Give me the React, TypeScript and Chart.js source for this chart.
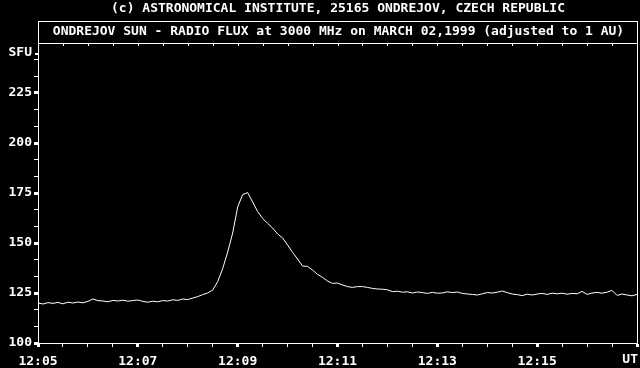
import React, { useEffect, useRef } from "react";
import { Chart, registerables } from "chart.js";

Chart.register(...registerables);

const titleText = "(c) ASTRONOMICAL INSTITUTE, 25165 ONDREJOV, CZECH REPUBLIC";
const subtitleText = "ONDREJOV SUN - RADIO FLUX at 3000 MHz on MARCH 02,1999 (adjusted to 1 AU)";
const yUnitLabel = "SFU";
const xUnitLabel = "UT";

// seconds after 12:00 UT
const startSec = 300; // 12:05:00
const stepSec = 6;
const xMinSec = 300;
const xMaxSec = 1020; // 12:17
const xMajorLabelSec = [300, 420, 540, 660, 780, 900];
const yMajorTicks = [100, 125, 150, 175, 200, 225];

// radio flux in SFU, one sample every 6 s from 12:05:00
const flux = [
  120.0, 119.5, 120.2, 119.8, 120.3, 119.6, 120.4, 120.0, 120.5, 120.1,
  120.8, 122.0, 121.2, 121.0, 120.6, 121.3, 121.0, 121.4, 120.9, 121.2,
  121.5, 120.8, 120.4, 120.9, 120.6, 121.2, 121.0, 121.6, 121.3, 122.0,
  121.7, 122.5, 123.2, 124.2, 125.0, 126.5, 130.7, 137.2, 145.5, 155.0,
  168.0, 174.2, 175.2, 170.5, 165.7, 162.3, 159.8, 157.5, 154.5, 152.5,
  149.0, 145.3, 142.0, 138.5, 138.3, 136.5, 134.3, 132.8, 131.0, 129.8,
  130.0, 129.0, 128.2, 127.8, 128.2, 128.2, 127.8, 127.3, 127.0, 126.9,
  126.6, 125.7, 125.9, 125.4, 125.6, 125.0, 125.5, 125.2, 124.8, 125.3,
  124.9, 125.0, 125.6, 125.2, 125.5, 124.8, 124.5, 124.3, 124.0, 124.6,
  125.2, 125.0, 125.4, 126.0, 125.2, 124.5, 124.2, 123.7, 124.4, 124.0,
  124.5, 124.8, 124.3, 124.9, 124.6, 124.9, 124.4, 124.8, 124.6, 125.8,
  124.3, 125.0, 125.3, 124.9, 125.4, 126.3, 123.8, 124.5, 124.0, 123.6,
  124.3,
];

const FONT = "'DejaVu Sans Mono', 'Liberation Mono', monospace";

function fmtTime(sec: number): string {
  const h = 12 + Math.floor(sec / 3600);
  const m = Math.floor((sec % 3600) / 60);
  return `${h}:${m < 10 ? "0" : ""}${m}`;
}

const framePlugin = {
  id: "frame",
  beforeDraw(chart: any) {
    const { ctx, width, height } = chart;
    ctx.save();
    ctx.fillStyle = "#000";
    ctx.fillRect(0, 0, width, height);
    ctx.restore();
  },
  afterDraw(chart: any) {
    const { ctx, chartArea } = chart;
    const { left, right, top, bottom } = chartArea;
    ctx.save();
    ctx.fillStyle = "#fff";
    ctx.strokeStyle = "#fff";
    ctx.lineWidth = 1;
    ctx.font = `bold 13px ${FONT}`;
    ctx.textBaseline = "middle";
    ctx.textAlign = "center";
    ctx.fillText(titleText, 338, 9);
    // subtitle box
    ctx.beginPath();
    ctx.moveTo(left, 21.5);
    ctx.lineTo(right + 0.5, 21.5);
    ctx.moveTo(left + 0.5, 21);
    ctx.lineTo(left + 0.5, top);
    ctx.moveTo(right + 0.5, 21);
    ctx.lineTo(right + 0.5, bottom);
    ctx.moveTo(left, top + 0.5);
    ctx.lineTo(right + 1, top + 0.5);
    ctx.stroke();
    ctx.fillText(subtitleText, (left + right) / 2 + 1, 32);
    // top minor ticks
    const xs = chart.scales.x;
    ctx.beginPath();
    for (let s = xMinSec + 30; s < xMaxSec; s += 30) {
      const px = Math.round(xs.getPixelForValue(s)) + 0.5;
      ctx.moveTo(px, top);
      ctx.lineTo(px, top + 3);
    }
    ctx.stroke();
    // unit labels
    ctx.textAlign = "right";
    ctx.fillText(yUnitLabel, 32, 53);
    ctx.fillRect(35, 53, 3, 2);
    ctx.fillText(xUnitLabel, right + 1, 360);
    ctx.restore();
  },
};

export default function App() {
  const ref = useRef<HTMLCanvasElement | null>(null);

  useEffect(() => {
    document.body.style.margin = "0";
    document.body.style.background = "#000";
    const canvas = ref.current;
    if (!canvas) return;
    const data = flux.map((v, i) => ({ x: startSec + i * stepSec, y: v }));
    const chart = new Chart(canvas, {
      type: "line",
      data: {
        datasets: [
          {
            data,
            borderColor: "#fff",
            borderWidth: 1,
            pointRadius: 0,
            tension: 0,
            fill: false,
          },
        ],
      },
      options: {
        responsive: false,
        animation: false,
        events: [],
        layout: { padding: { top: 43, right: 3, left: 0, bottom: 0 } },
        plugins: {
          legend: { display: false },
          tooltip: { enabled: false },
        },
        scales: {
          x: {
            type: "linear",
            min: xMinSec,
            max: xMaxSec,
            afterBuildTicks: (scale: any) => {
              const t = [];
              for (let s = xMinSec; s <= xMaxSec; s += 30) t.push({ value: s });
              scale.ticks = t;
            },
            afterFit: (scale: any) => {
              scale.height = 25;
              scale.paddingLeft = 0;
              scale.paddingRight = 0;
            },
            border: { display: true, color: "#fff", width: 1 },
            grid: {
              drawOnChartArea: false,
              drawTicks: true,
              tickLength: 4,
              color: "#fff",
              tickColor: "#fff",
              tickWidth: (c: any) => ((c.tick?.value - xMinSec) % 120 === 0 ? 3 : 1),
            },
            ticks: {
              color: "#fff",
              font: { family: FONT, size: 13, weight: "bold" },
              padding: 7,
              maxRotation: 0,
              minRotation: 0,
              autoSkip: false,
              callback: (v: any) => (xMajorLabelSec.includes(Number(v)) ? fmtTime(Number(v)) : ""),
            },
          },
          y: {
            type: "linear",
            min: 100,
            max: 250,
            afterBuildTicks: (scale: any) => {
              const t = [];
              for (let k = 0; k < 18; k++) t.push({ value: 100 + (k * 25) / 3 });
              scale.ticks = t;
            },
            afterFit: (scale: any) => {
              scale.width = 38;
              scale.paddingTop = 0;
              scale.paddingBottom = 0;
            },
            border: { display: true, color: "#fff", width: 1 },
            grid: {
              drawOnChartArea: false,
              drawTicks: true,
              tickLength: 4,
              color: "#fff",
              tickColor: "#fff",
              tickWidth: (c: any) => (yMajorTicks.includes(Math.round(c.tick?.value * 100) / 100) ? 3 : 1),
            },
            ticks: {
              color: "#fff",
              font: { family: FONT, size: 13, weight: "bold" },
              padding: 2,
              autoSkip: false,
              callback: (v: any) => {
                const r = Math.round(Number(v) * 100) / 100;
                return yMajorTicks.includes(r) ? String(r) : "";
              },
            },
          },
        },
      },
      plugins: [framePlugin],
    } as any);
    return () => chart.destroy();
  }, []);

  return (
    <div style={{ position: "fixed", left: 0, top: 0, width: 640, height: 368, background: "#000" }}>
      <canvas ref={ref} width={640} height={368} style={{ display: "block" }} />
    </div>
  );
}
